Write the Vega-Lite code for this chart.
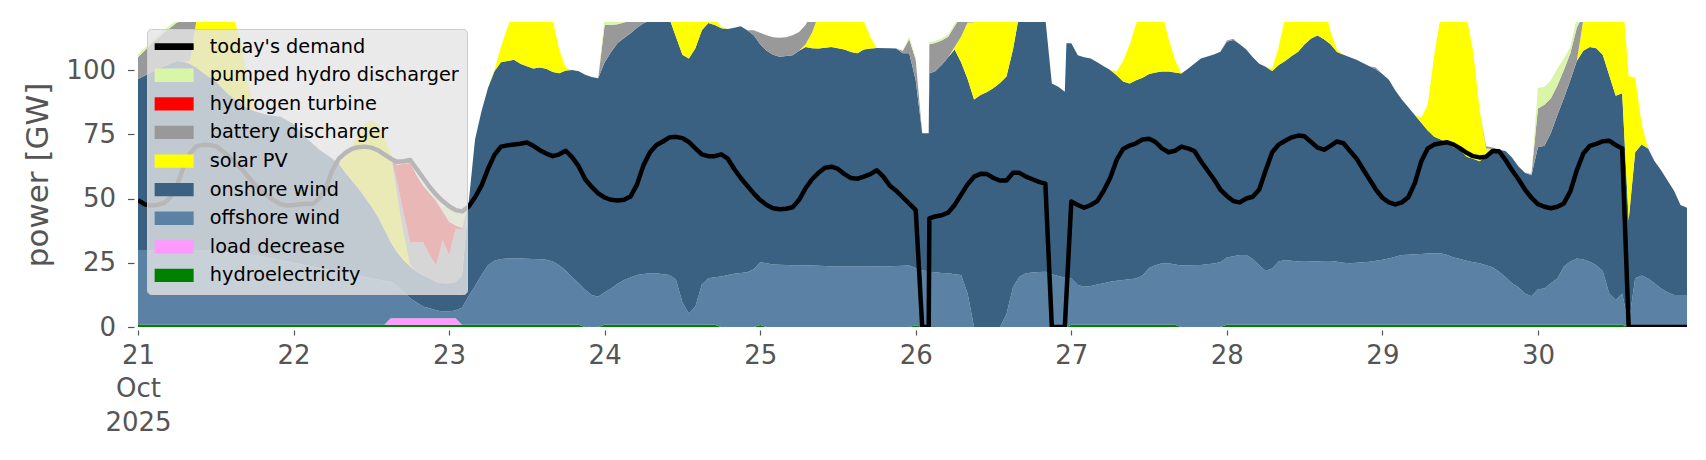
{
"$schema": "https://vega.github.io/schema/vega-lite/v6.json",
"width": 1549, "height": 305,
"autosize": {"type": "none"},
"padding": {"left": 138, "top": 22, "right": 19, "bottom": 133},
"background": "white",
"config": {"font": "DejaVu Sans", "view": {"stroke": null}},
"datasets": {
"names": [
{"key":"hydro","series":"hydroelectricity","rank":1},{"key":"load","series":"load decrease","rank":2},{"key":"off","series":"offshore wind","rank":3},{"key":"on","series":"onshore wind","rank":4},{"key":"pv","series":"solar PV","rank":5},{"key":"bat","series":"battery discharger","rank":6},{"key":"h2","series":"hydrogen turbine","rank":7},{"key":"phs","series":"pumped hydro discharger","rank":8}],
"stack": [
{"t":"2025-10-21T00:00Z","hydro":0.9,"load":0,"off":29.1,"on":66.5,"pv":0,"bat":8.5,"h2":0,"phs":1},
{"t":"2025-10-21T02:00Z","hydro":0.9,"load":0,"off":29.1,"on":69,"pv":0,"bat":11,"h2":0,"phs":1},
{"t":"2025-10-21T04:00Z","hydro":0.9,"load":0,"off":29.1,"on":71.5,"pv":0,"bat":13,"h2":0,"phs":1},
{"t":"2025-10-21T06:00Z","hydro":0.9,"load":0,"off":29.1,"on":73.5,"pv":0,"bat":15,"h2":0,"phs":1},
{"t":"2025-10-21T07:00Z","hydro":0.9,"load":0,"off":29.1,"on":73.2,"pv":0,"bat":16,"h2":0,"phs":1},
{"t":"2025-10-21T08:00Z","hydro":0.9,"load":0,"off":29.1,"on":72.5,"pv":1,"bat":16,"h2":0,"phs":1},
{"t":"2025-10-21T09:00Z","hydro":0.9,"load":0,"off":29.1,"on":71,"pv":18,"bat":10,"h2":0,"phs":0},
{"t":"2025-10-21T10:00Z","hydro":0.9,"load":0,"off":29.1,"on":69,"pv":28,"bat":5,"h2":0,"phs":0},
{"t":"2025-10-21T12:00Z","hydro":0.9,"load":0,"off":28.6,"on":66,"pv":36,"bat":0,"h2":0,"phs":0},
{"t":"2025-10-21T14:00Z","hydro":0.9,"load":0,"off":28.1,"on":61.5,"pv":34,"bat":0,"h2":0,"phs":0},
{"t":"2025-10-21T15:00Z","hydro":0.9,"load":0,"off":27.9,"on":59.7,"pv":30,"bat":0,"h2":0,"phs":0},
{"t":"2025-10-21T16:00Z","hydro":0.9,"load":0,"off":27.6,"on":58.5,"pv":22,"bat":0,"h2":0,"phs":0},
{"t":"2025-10-21T17:00Z","hydro":0.9,"load":0,"off":27.3,"on":56.8,"pv":10,"bat":0,"h2":0,"phs":0},
{"t":"2025-10-21T18:00Z","hydro":0.9,"load":0,"off":27.1,"on":56,"pv":0,"bat":0,"h2":0,"phs":0},
{"t":"2025-10-21T20:00Z","hydro":0.9,"load":0,"off":26.1,"on":55.5,"pv":0,"bat":0,"h2":0,"phs":0},
{"t":"2025-10-21T22:00Z","hydro":0.9,"load":0,"off":25.1,"on":55.8,"pv":0,"bat":0,"h2":0,"phs":0},
{"t":"2025-10-22T00:00Z","hydro":0.9,"load":0,"off":24.1,"on":54,"pv":0,"bat":0,"h2":0,"phs":0},
{"t":"2025-10-22T02:00Z","hydro":0.9,"load":0,"off":23.1,"on":49.5,"pv":0,"bat":0,"h2":0,"phs":0},
{"t":"2025-10-22T04:00Z","hydro":0.9,"load":0,"off":22.1,"on":46,"pv":0,"bat":0,"h2":0,"phs":0},
{"t":"2025-10-22T06:00Z","hydro":0.9,"load":0,"off":21.1,"on":43.5,"pv":0,"bat":0,"h2":0,"phs":0},
{"t":"2025-10-22T07:00Z","hydro":0.9,"load":0,"off":20.6,"on":42,"pv":0.5,"bat":0,"h2":0,"phs":0},
{"t":"2025-10-22T08:00Z","hydro":0.9,"load":0,"off":20.1,"on":39,"pv":6,"bat":0,"h2":0,"phs":0},
{"t":"2025-10-22T09:00Z","hydro":0.9,"load":0,"off":19.6,"on":36.5,"pv":13,"bat":0,"h2":0,"phs":0},
{"t":"2025-10-22T10:00Z","hydro":0.9,"load":0,"off":19.1,"on":34,"pv":21,"bat":0,"h2":0,"phs":0},
{"t":"2025-10-22T11:00Z","hydro":0.9,"load":0,"off":18.6,"on":31,"pv":28.5,"bat":0,"h2":0,"phs":0},
{"t":"2025-10-22T12:00Z","hydro":0.9,"load":0,"off":18.1,"on":28,"pv":33.5,"bat":0,"h2":0,"phs":0},
{"t":"2025-10-22T13:00Z","hydro":0.9,"load":0,"off":17.6,"on":24.5,"pv":36,"bat":0,"h2":0,"phs":0},
{"t":"2025-10-22T14:00Z","hydro":0.9,"load":0,"off":17.1,"on":20,"pv":36,"bat":0,"h2":0,"phs":0},
{"t":"2025-10-22T15:00Z","hydro":0.9,"load":2.5,"off":14.2,"on":15.4,"pv":34,"bat":0,"h2":0,"phs":0},
{"t":"2025-10-22T16:00Z","hydro":0.9,"load":2.5,"off":12.6,"on":13,"pv":22,"bat":5,"h2":7,"phs":0},
{"t":"2025-10-22T17:00Z","hydro":0.9,"load":2.5,"off":10.1,"on":12.5,"pv":10,"bat":8,"h2":19.5,"phs":0},
{"t":"2025-10-22T18:00Z","hydro":0.9,"load":2.5,"off":7.8,"on":12.3,"pv":0.5,"bat":9,"h2":30.7,"phs":0},
{"t":"2025-10-22T19:00Z","hydro":0.9,"load":2.5,"off":6.1,"on":12,"pv":0,"bat":11.5,"h2":26,"phs":0},
{"t":"2025-10-22T20:00Z","hydro":0.9,"load":2.5,"off":4.6,"on":12,"pv":0,"bat":13,"h2":22,"phs":0.5},
{"t":"2025-10-22T21:00Z","hydro":0.9,"load":2.5,"off":3.9,"on":11.7,"pv":0,"bat":9,"h2":24,"phs":0.5},
{"t":"2025-10-22T22:00Z","hydro":0.9,"load":2.5,"off":3.1,"on":11,"pv":0,"bat":6.5,"h2":25,"phs":1},
{"t":"2025-10-22T23:00Z","hydro":0.9,"load":2.5,"off":2.6,"on":11,"pv":0,"bat":17,"h2":11,"phs":1.5},
{"t":"2025-10-23T00:00Z","hydro":0.9,"load":2.5,"off":2.6,"on":11,"pv":0,"bat":11,"h2":13,"phs":7},
{"t":"2025-10-23T01:00Z","hydro":0.9,"load":2.5,"off":3.1,"on":11,"pv":0,"bat":20.5,"h2":1.5,"phs":6.5},
{"t":"2025-10-23T02:00Z","hydro":0.9,"load":0,"off":6.6,"on":12.5,"pv":0,"bat":18,"h2":0.5,"phs":5.5},
{"t":"2025-10-23T03:00Z","hydro":0.9,"load":0,"off":11.1,"on":36,"pv":0,"bat":0,"h2":0,"phs":0},
{"t":"2025-10-23T04:00Z","hydro":0.9,"load":0,"off":15.1,"on":57,"pv":0,"bat":0,"h2":0,"phs":0},
{"t":"2025-10-23T05:00Z","hydro":0.9,"load":0,"off":19.3,"on":63.8,"pv":0,"bat":0,"h2":0,"phs":0},
{"t":"2025-10-23T06:00Z","hydro":0.9,"load":0,"off":23.1,"on":69,"pv":0,"bat":0,"h2":0,"phs":0},
{"t":"2025-10-23T07:00Z","hydro":0.9,"load":0,"off":24.9,"on":73.7,"pv":0.5,"bat":0,"h2":0,"phs":0},
{"t":"2025-10-23T08:00Z","hydro":0.9,"load":0,"off":25.6,"on":76.5,"pv":6,"bat":0,"h2":0,"phs":0},
{"t":"2025-10-23T09:00Z","hydro":0.9,"load":0,"off":25.8,"on":76.8,"pv":13,"bat":0,"h2":0,"phs":0},
{"t":"2025-10-23T10:00Z","hydro":0.9,"load":0,"off":25.8,"on":77.3,"pv":20,"bat":0,"h2":0,"phs":0},
{"t":"2025-10-23T11:00Z","hydro":0.9,"load":0,"off":25.8,"on":75.8,"pv":26,"bat":0,"h2":0,"phs":0},
{"t":"2025-10-23T12:00Z","hydro":0.9,"load":0,"off":25.7,"on":74.9,"pv":30,"bat":0,"h2":0,"phs":0},
{"t":"2025-10-23T13:00Z","hydro":0.9,"load":0,"off":25.6,"on":74.1,"pv":31,"bat":0,"h2":0,"phs":0},
{"t":"2025-10-23T14:00Z","hydro":0.9,"load":0,"off":25.5,"on":74.6,"pv":29,"bat":0,"h2":0,"phs":0},
{"t":"2025-10-23T15:00Z","hydro":0.9,"load":0,"off":25.3,"on":74.3,"pv":25,"bat":0,"h2":0,"phs":0},
{"t":"2025-10-23T16:00Z","hydro":0.9,"load":0,"off":24.6,"on":73.7,"pv":20,"bat":0,"h2":0,"phs":0},
{"t":"2025-10-23T17:00Z","hydro":0.9,"load":0,"off":23.1,"on":74.8,"pv":9,"bat":0,"h2":0,"phs":0},
{"t":"2025-10-23T18:00Z","hydro":0.9,"load":0,"off":21.1,"on":77.8,"pv":1,"bat":0,"h2":0,"phs":0},
{"t":"2025-10-23T19:00Z","hydro":0.9,"load":0,"off":18.6,"on":80.5,"pv":0,"bat":0,"h2":0,"phs":0},
{"t":"2025-10-23T20:00Z","hydro":0.9,"load":0,"off":16.1,"on":82.5,"pv":0,"bat":0,"h2":0,"phs":0},
{"t":"2025-10-23T21:00Z","hydro":0,"load":0,"off":14.5,"on":83.7,"pv":0,"bat":0,"h2":0,"phs":0},
{"t":"2025-10-23T22:00Z","hydro":0,"load":0,"off":12.5,"on":84.8,"pv":0,"bat":0,"h2":0,"phs":0},
{"t":"2025-10-23T23:00Z","hydro":0,"load":0,"off":11.8,"on":85,"pv":0,"bat":0,"h2":0,"phs":0},
{"t":"2025-10-24T00:00Z","hydro":0.9,"load":0,"off":12.6,"on":89.5,"pv":0,"bat":14.5,"h2":0,"phs":3},
{"t":"2025-10-24T01:00Z","hydro":0.9,"load":0,"off":14.1,"on":92,"pv":0,"bat":10.5,"h2":0,"phs":3},
{"t":"2025-10-24T02:00Z","hydro":0.9,"load":0,"off":15.9,"on":93.7,"pv":0,"bat":7.3,"h2":0,"phs":2},
{"t":"2025-10-24T03:00Z","hydro":0.9,"load":0,"off":17.4,"on":94.2,"pv":0,"bat":6,"h2":0,"phs":1},
{"t":"2025-10-24T04:00Z","hydro":0.9,"load":0,"off":18.4,"on":95,"pv":0,"bat":5,"h2":0,"phs":1},
{"t":"2025-10-24T05:00Z","hydro":0.9,"load":0,"off":19.3,"on":96.3,"pv":0,"bat":3,"h2":0,"phs":1},
{"t":"2025-10-24T06:00Z","hydro":0.9,"load":0,"off":19.7,"on":97.6,"pv":0,"bat":2,"h2":0,"phs":0.5},
{"t":"2025-10-24T07:00Z","hydro":0.9,"load":0,"off":20,"on":98.6,"pv":0.5,"bat":0,"h2":0,"phs":0},
{"t":"2025-10-24T08:00Z","hydro":0.9,"load":0,"off":20,"on":99.6,"pv":3,"bat":0,"h2":0,"phs":0},
{"t":"2025-10-24T09:00Z","hydro":0.9,"load":0,"off":19.6,"on":100.5,"pv":8,"bat":0,"h2":0,"phs":0},
{"t":"2025-10-24T10:00Z","hydro":0.9,"load":0,"off":19.3,"on":99.8,"pv":13,"bat":0,"h2":0,"phs":0},
{"t":"2025-10-24T11:00Z","hydro":0.9,"load":0,"off":17.6,"on":94.5,"pv":17,"bat":0,"h2":0,"phs":0},
{"t":"2025-10-24T12:00Z","hydro":0.9,"load":0,"off":8.6,"on":96.5,"pv":20,"bat":0,"h2":0,"phs":0},
{"t":"2025-10-24T13:00Z","hydro":0.9,"load":0,"off":4.4,"on":99.2,"pv":20,"bat":0,"h2":0,"phs":0},
{"t":"2025-10-24T14:00Z","hydro":0.9,"load":0,"off":7.1,"on":100.5,"pv":18,"bat":0,"h2":0,"phs":0},
{"t":"2025-10-24T15:00Z","hydro":0.9,"load":0,"off":15.6,"on":99,"pv":13,"bat":0,"h2":0,"phs":0},
{"t":"2025-10-24T16:00Z","hydro":0.9,"load":0,"off":18.1,"on":99.3,"pv":8,"bat":0,"h2":0,"phs":0},
{"t":"2025-10-24T17:00Z","hydro":0.9,"load":0,"off":18.5,"on":98.1,"pv":3,"bat":0,"h2":0,"phs":0},
{"t":"2025-10-24T18:00Z","hydro":0,"load":0,"off":19.7,"on":96.6,"pv":0.5,"bat":0,"h2":0,"phs":0},
{"t":"2025-10-24T19:00Z","hydro":0,"load":0,"off":20.2,"on":95.8,"pv":0,"bat":0,"h2":0,"phs":0},
{"t":"2025-10-24T20:00Z","hydro":0,"load":0,"off":20.7,"on":95.8,"pv":0,"bat":0,"h2":0,"phs":0},
{"t":"2025-10-24T21:00Z","hydro":0,"load":0,"off":21,"on":96,"pv":0,"bat":0,"h2":0,"phs":0},
{"t":"2025-10-24T22:00Z","hydro":0,"load":0,"off":21.3,"on":94.2,"pv":0,"bat":0,"h2":0,"phs":0},
{"t":"2025-10-24T23:00Z","hydro":0,"load":0,"off":22.5,"on":91,"pv":0,"bat":2,"h2":0,"phs":0},
{"t":"2025-10-25T00:00Z","hydro":0.8,"load":0,"off":24.4,"on":84.8,"pv":0,"bat":4.5,"h2":0,"phs":0},
{"t":"2025-10-25T01:00Z","hydro":0,"load":0,"off":24.8,"on":82.7,"pv":0,"bat":6,"h2":0,"phs":0},
{"t":"2025-10-25T02:00Z","hydro":0,"load":0,"off":24.3,"on":81.7,"pv":0,"bat":6.8,"h2":0,"phs":0},
{"t":"2025-10-25T03:00Z","hydro":0,"load":0,"off":24.2,"on":81,"pv":0,"bat":7.4,"h2":0,"phs":0},
{"t":"2025-10-25T04:00Z","hydro":0,"load":0,"off":24.1,"on":81.4,"pv":0,"bat":7.3,"h2":0,"phs":0},
{"t":"2025-10-25T05:00Z","hydro":0,"load":0,"off":24,"on":81.8,"pv":0,"bat":7.7,"h2":0,"phs":0},
{"t":"2025-10-25T06:00Z","hydro":0,"load":0,"off":24,"on":83.5,"pv":0,"bat":7.3,"h2":0,"phs":0},
{"t":"2025-10-25T07:00Z","hydro":0,"load":0,"off":23.9,"on":85.1,"pv":1,"bat":7.5,"h2":0,"phs":0},
{"t":"2025-10-25T08:00Z","hydro":0,"load":0,"off":23.9,"on":84.6,"pv":6,"bat":8,"h2":0,"phs":0},
{"t":"2025-10-25T09:00Z","hydro":0,"load":0,"off":23.8,"on":84.6,"pv":13,"bat":2,"h2":0,"phs":0},
{"t":"2025-10-25T10:00Z","hydro":0,"load":0,"off":23.7,"on":85,"pv":18,"bat":0,"h2":0,"phs":0},
{"t":"2025-10-25T11:00Z","hydro":0,"load":0,"off":23.5,"on":85.5,"pv":21,"bat":0,"h2":0,"phs":0},
{"t":"2025-10-25T12:00Z","hydro":0,"load":0,"off":23.5,"on":85,"pv":22,"bat":0,"h2":0,"phs":0},
{"t":"2025-10-25T13:00Z","hydro":0,"load":0,"off":23.5,"on":84.5,"pv":21,"bat":0,"h2":0,"phs":0},
{"t":"2025-10-25T14:00Z","hydro":0,"load":0,"off":23.5,"on":83.5,"pv":18,"bat":0,"h2":0,"phs":0},
{"t":"2025-10-25T15:00Z","hydro":0,"load":0,"off":23.5,"on":83,"pv":15,"bat":0,"h2":0,"phs":0},
{"t":"2025-10-25T16:00Z","hydro":0,"load":0,"off":23.5,"on":84.5,"pv":11,"bat":0,"h2":0,"phs":0},
{"t":"2025-10-25T17:00Z","hydro":0,"load":0,"off":23.5,"on":84.9,"pv":4.5,"bat":0,"h2":0,"phs":0},
{"t":"2025-10-25T18:00Z","hydro":0,"load":0,"off":23.6,"on":85,"pv":0,"bat":0,"h2":0,"phs":0},
{"t":"2025-10-25T20:00Z","hydro":0,"load":0,"off":23.6,"on":84.9,"pv":0,"bat":0,"h2":0,"phs":0},
{"t":"2025-10-25T21:00Z","hydro":0,"load":0,"off":23.7,"on":84.7,"pv":0,"bat":0,"h2":0,"phs":0},
{"t":"2025-10-25T22:00Z","hydro":0,"load":0,"off":23.8,"on":82.7,"pv":0,"bat":1,"h2":0,"phs":0.3},
{"t":"2025-10-25T23:00Z","hydro":0,"load":0,"off":23.9,"on":82.6,"pv":0,"bat":5.5,"h2":0,"phs":1},
{"t":"2025-10-26T00:00Z","hydro":0.7,"load":0,"off":22.3,"on":73,"pv":0,"bat":8,"h2":0,"phs":1},
{"t":"2025-10-26T01:00Z","hydro":0,"load":0,"off":22,"on":53.4,"pv":0,"bat":0,"h2":0,"phs":0},
{"t":"2025-10-26T02:00Z","hydro":0,"load":0,"off":21.7,"on":53.7,"pv":0,"bat":0,"h2":0,"phs":0},
{"t":"2025-10-26T02:06Z","hydro":0,"load":0,"off":21.5,"on":77.2,"pv":0,"bat":11.3,"h2":0,"phs":0.9},
{"t":"2025-10-26T03:00Z","hydro":0,"load":0,"off":21.3,"on":78.2,"pv":0,"bat":11,"h2":0,"phs":0.8},
{"t":"2025-10-26T04:00Z","hydro":0,"load":0,"off":21,"on":81,"pv":0,"bat":9.5,"h2":0,"phs":0.8},
{"t":"2025-10-26T05:00Z","hydro":0,"load":0,"off":20.9,"on":84.1,"pv":0,"bat":8,"h2":0,"phs":0.8},
{"t":"2025-10-26T06:00Z","hydro":0,"load":0,"off":20.5,"on":87.5,"pv":1,"bat":8,"h2":0,"phs":1},
{"t":"2025-10-26T07:00Z","hydro":0,"load":0,"off":20.2,"on":82.8,"pv":10,"bat":8,"h2":0,"phs":1},
{"t":"2025-10-26T08:00Z","hydro":0,"load":0,"off":13,"on":83.5,"pv":22,"bat":3,"h2":0,"phs":0},
{"t":"2025-10-26T09:00Z","hydro":0,"load":0,"off":0,"on":88.5,"pv":30,"bat":0,"h2":0,"phs":0},
{"t":"2025-10-26T10:00Z","hydro":0,"load":0,"off":0,"on":90.3,"pv":34,"bat":0,"h2":0,"phs":0},
{"t":"2025-10-26T11:00Z","hydro":0,"load":0,"off":0,"on":91.5,"pv":35,"bat":0,"h2":0,"phs":0},
{"t":"2025-10-26T12:00Z","hydro":0,"load":0,"off":0,"on":93,"pv":34,"bat":0,"h2":0,"phs":0},
{"t":"2025-10-26T13:00Z","hydro":0,"load":0,"off":0,"on":95,"pv":30,"bat":0,"h2":0,"phs":0},
{"t":"2025-10-26T14:00Z","hydro":0,"load":0,"off":5,"on":92.5,"pv":24,"bat":0,"h2":0,"phs":0},
{"t":"2025-10-26T15:00Z","hydro":0,"load":0,"off":15.5,"on":92.5,"pv":15,"bat":0,"h2":0,"phs":0},
{"t":"2025-10-26T16:00Z","hydro":0,"load":0,"off":19.6,"on":102.4,"pv":8,"bat":0,"h2":0,"phs":0},
{"t":"2025-10-26T17:00Z","hydro":0,"load":0,"off":20.9,"on":104.1,"pv":2,"bat":0,"h2":0,"phs":0},
{"t":"2025-10-26T18:00Z","hydro":0,"load":0,"off":21.2,"on":102.8,"pv":0,"bat":0,"h2":0,"phs":0},
{"t":"2025-10-26T19:00Z","hydro":0,"load":0,"off":21.4,"on":100.6,"pv":0,"bat":0,"h2":0,"phs":0},
{"t":"2025-10-26T20:00Z","hydro":0,"load":0,"off":21.5,"on":98.5,"pv":0,"bat":0,"h2":0,"phs":0},
{"t":"2025-10-26T21:00Z","hydro":0,"load":0,"off":20.5,"on":74.3,"pv":0,"bat":0,"h2":0,"phs":0},
{"t":"2025-10-26T22:00Z","hydro":0,"load":0,"off":19.8,"on":73.7,"pv":0,"bat":0,"h2":0,"phs":0},
{"t":"2025-10-26T23:00Z","hydro":0,"load":0,"off":19.2,"on":72.4,"pv":0,"bat":0,"h2":0,"phs":0},
{"t":"2025-10-26T23:15Z","hydro":0,"load":0,"off":19,"on":91.4,"pv":0,"bat":0,"h2":0,"phs":0},
{"t":"2025-10-27T00:00Z","hydro":0.9,"load":0,"off":18,"on":91.5,"pv":0,"bat":0,"h2":0,"phs":0},
{"t":"2025-10-27T01:00Z","hydro":0.9,"load":0,"off":15.4,"on":89.5,"pv":0,"bat":0,"h2":0,"phs":0},
{"t":"2025-10-27T02:00Z","hydro":0.9,"load":0,"off":14.8,"on":89.3,"pv":0,"bat":0,"h2":0,"phs":0},
{"t":"2025-10-27T03:00Z","hydro":0.9,"load":0,"off":15.1,"on":88.5,"pv":0,"bat":0,"h2":0,"phs":0},
{"t":"2025-10-27T04:00Z","hydro":0.9,"load":0,"off":15.6,"on":86.5,"pv":0,"bat":0,"h2":0,"phs":0},
{"t":"2025-10-27T05:00Z","hydro":0.9,"load":0,"off":16.1,"on":84.5,"pv":0,"bat":0,"h2":0,"phs":0},
{"t":"2025-10-27T06:00Z","hydro":0.9,"load":0,"off":16.7,"on":82.4,"pv":0,"bat":0,"h2":0,"phs":0},
{"t":"2025-10-27T07:00Z","hydro":0.9,"load":0,"off":17.1,"on":80,"pv":1.5,"bat":0,"h2":0,"phs":0},
{"t":"2025-10-27T08:00Z","hydro":0.9,"load":0,"off":17.4,"on":77.2,"pv":8,"bat":0,"h2":0,"phs":0},
{"t":"2025-10-27T09:00Z","hydro":0.9,"load":0,"off":17.7,"on":76.2,"pv":15,"bat":0,"h2":0,"phs":0},
{"t":"2025-10-27T10:00Z","hydro":0.9,"load":0,"off":18,"on":77.1,"pv":22,"bat":0,"h2":0,"phs":0},
{"t":"2025-10-27T11:00Z","hydro":0.9,"load":0,"off":19.1,"on":77,"pv":28,"bat":0,"h2":0,"phs":0},
{"t":"2025-10-27T12:00Z","hydro":0.9,"load":0,"off":22.1,"on":75.5,"pv":31,"bat":0,"h2":0,"phs":0},
{"t":"2025-10-27T13:00Z","hydro":0.9,"load":0,"off":23.1,"on":75,"pv":30,"bat":0,"h2":0,"phs":0},
{"t":"2025-10-27T14:00Z","hydro":0.9,"load":0,"off":23.9,"on":74.6,"pv":23,"bat":0,"h2":0,"phs":0},
{"t":"2025-10-27T15:00Z","hydro":0.9,"load":0,"off":23.9,"on":74.6,"pv":13,"bat":0,"h2":0,"phs":0},
{"t":"2025-10-27T16:00Z","hydro":0.9,"load":0,"off":23.4,"on":74.7,"pv":5,"bat":0,"h2":0,"phs":0},
{"t":"2025-10-27T17:00Z","hydro":0,"load":0,"off":23.9,"on":74.8,"pv":0,"bat":0,"h2":0,"phs":0},
{"t":"2025-10-27T18:00Z","hydro":0,"load":0,"off":24,"on":76.5,"pv":0,"bat":0,"h2":0,"phs":0},
{"t":"2025-10-27T20:00Z","hydro":0,"load":0,"off":24.1,"on":80.4,"pv":0,"bat":0,"h2":0,"phs":0},
{"t":"2025-10-27T22:00Z","hydro":0,"load":0,"off":24.7,"on":81.4,"pv":0,"bat":0,"h2":0,"phs":0},
{"t":"2025-10-27T23:00Z","hydro":0,"load":0,"off":25.2,"on":81.9,"pv":0,"bat":0,"h2":0,"phs":0},
{"t":"2025-10-28T00:00Z","hydro":0.9,"load":0,"off":26.1,"on":84,"pv":0,"bat":0.5,"h2":0,"phs":0},
{"t":"2025-10-28T01:00Z","hydro":0.9,"load":0,"off":26.6,"on":84.2,"pv":0,"bat":0.5,"h2":0,"phs":0},
{"t":"2025-10-28T02:00Z","hydro":0.9,"load":0,"off":27.1,"on":82,"pv":0,"bat":0,"h2":0,"phs":0},
{"t":"2025-10-28T03:00Z","hydro":0.9,"load":0,"off":27.1,"on":80,"pv":0,"bat":0,"h2":0,"phs":0},
{"t":"2025-10-28T04:00Z","hydro":0.9,"load":0,"off":25.6,"on":78.5,"pv":0,"bat":0,"h2":0,"phs":0},
{"t":"2025-10-28T05:00Z","hydro":0.9,"load":0,"off":23.1,"on":78.5,"pv":0,"bat":0,"h2":0,"phs":0},
{"t":"2025-10-28T06:00Z","hydro":0.9,"load":0,"off":20.9,"on":79.5,"pv":0,"bat":0,"h2":0,"phs":0},
{"t":"2025-10-28T07:00Z","hydro":0.9,"load":0,"off":21.9,"on":76.8,"pv":1,"bat":0,"h2":0,"phs":0},
{"t":"2025-10-28T08:00Z","hydro":0.9,"load":0,"off":24.6,"on":76.5,"pv":7,"bat":0,"h2":0,"phs":0},
{"t":"2025-10-28T09:00Z","hydro":0.9,"load":0,"off":25.2,"on":77.4,"pv":17,"bat":0,"h2":0,"phs":0},
{"t":"2025-10-28T10:00Z","hydro":0.9,"load":0,"off":24.9,"on":79.7,"pv":25,"bat":0,"h2":0,"phs":0},
{"t":"2025-10-28T11:00Z","hydro":0.9,"load":0,"off":24.6,"on":81.6,"pv":30,"bat":0,"h2":0,"phs":0},
{"t":"2025-10-28T12:00Z","hydro":0.9,"load":0,"off":24.5,"on":84.6,"pv":32,"bat":0,"h2":0,"phs":0},
{"t":"2025-10-28T13:00Z","hydro":0.9,"load":0,"off":24.6,"on":86.8,"pv":30,"bat":0,"h2":0,"phs":0},
{"t":"2025-10-28T14:00Z","hydro":0.9,"load":0,"off":24.7,"on":87.8,"pv":24,"bat":0,"h2":0,"phs":0},
{"t":"2025-10-28T15:00Z","hydro":0.9,"load":0,"off":24.8,"on":86.3,"pv":14,"bat":0,"h2":0,"phs":0},
{"t":"2025-10-28T16:00Z","hydro":0.9,"load":0,"off":24.8,"on":84.3,"pv":5,"bat":0,"h2":0,"phs":0},
{"t":"2025-10-28T17:00Z","hydro":0.9,"load":0,"off":24.5,"on":81.6,"pv":1,"bat":0,"h2":0,"phs":0},
{"t":"2025-10-28T18:00Z","hydro":0.9,"load":0,"off":24.1,"on":81,"pv":0,"bat":0,"h2":0,"phs":0},
{"t":"2025-10-28T19:00Z","hydro":0.9,"load":0,"off":23.9,"on":80.2,"pv":0,"bat":0,"h2":0,"phs":0},
{"t":"2025-10-28T20:00Z","hydro":0.9,"load":0,"off":24.1,"on":79,"pv":0,"bat":0,"h2":0,"phs":0},
{"t":"2025-10-28T22:00Z","hydro":0.9,"load":0,"off":24.5,"on":76.1,"pv":0,"bat":0,"h2":0,"phs":0},
{"t":"2025-10-28T23:00Z","hydro":0.9,"load":0,"off":24.9,"on":74.5,"pv":0,"bat":0.7,"h2":0,"phs":0},
{"t":"2025-10-29T00:00Z","hydro":0.9,"load":0,"off":25.3,"on":72.3,"pv":0,"bat":0,"h2":0,"phs":0},
{"t":"2025-10-29T01:00Z","hydro":0.9,"load":0,"off":25.8,"on":69.5,"pv":0,"bat":0,"h2":0,"phs":0},
{"t":"2025-10-29T02:00Z","hydro":0.9,"load":0,"off":26.4,"on":64.7,"pv":0,"bat":0,"h2":0,"phs":0},
{"t":"2025-10-29T03:00Z","hydro":0.9,"load":0,"off":27.1,"on":60.5,"pv":0,"bat":0,"h2":0,"phs":0},
{"t":"2025-10-29T04:00Z","hydro":0.9,"load":0,"off":27.2,"on":57.4,"pv":0,"bat":0,"h2":0,"phs":0},
{"t":"2025-10-29T05:00Z","hydro":0.9,"load":0,"off":27.4,"on":54.2,"pv":0,"bat":0,"h2":0,"phs":0},
{"t":"2025-10-29T06:00Z","hydro":0.9,"load":0,"off":27.5,"on":51.1,"pv":2,"bat":0,"h2":0,"phs":0},
{"t":"2025-10-29T07:00Z","hydro":0.9,"load":0,"off":27.7,"on":47.9,"pv":10,"bat":0,"h2":0,"phs":0},
{"t":"2025-10-29T08:00Z","hydro":0.9,"load":0,"off":27.8,"on":45.3,"pv":32,"bat":0,"h2":0,"phs":0},
{"t":"2025-10-29T09:00Z","hydro":0.9,"load":0,"off":27.8,"on":44.3,"pv":48,"bat":0,"h2":0,"phs":0},
{"t":"2025-10-29T10:00Z","hydro":0.9,"load":0,"off":27.1,"on":43.5,"pv":55,"bat":0,"h2":0,"phs":0},
{"t":"2025-10-29T11:00Z","hydro":0.9,"load":0,"off":26.1,"on":43,"pv":58,"bat":0,"h2":0,"phs":0},
{"t":"2025-10-29T12:00Z","hydro":0.9,"load":0,"off":25.6,"on":42.3,"pv":58,"bat":0,"h2":0,"phs":0},
{"t":"2025-10-29T13:00Z","hydro":0.9,"load":0,"off":24.9,"on":40.5,"pv":54,"bat":0,"h2":0,"phs":0},
{"t":"2025-10-29T14:00Z","hydro":0.9,"load":0,"off":24.3,"on":40.3,"pv":42,"bat":0,"h2":0,"phs":0},
{"t":"2025-10-29T15:00Z","hydro":0.9,"load":0,"off":23.9,"on":39.7,"pv":20,"bat":0,"h2":0,"phs":0},
{"t":"2025-10-29T16:00Z","hydro":0.9,"load":0,"off":23.1,"on":42.5,"pv":3,"bat":0.8,"h2":0,"phs":0},
{"t":"2025-10-29T17:00Z","hydro":0.9,"load":0,"off":22.4,"on":46,"pv":0,"bat":0.6,"h2":0,"phs":0},
{"t":"2025-10-29T18:00Z","hydro":0.9,"load":0,"off":20.6,"on":47.5,"pv":0,"bat":0,"h2":0,"phs":0},
{"t":"2025-10-29T19:00Z","hydro":0.9,"load":0,"off":18.6,"on":49,"pv":0,"bat":0,"h2":0,"phs":0},
{"t":"2025-10-29T20:00Z","hydro":0.9,"load":0,"off":16.1,"on":49,"pv":0,"bat":0,"h2":0,"phs":0},
{"t":"2025-10-29T21:00Z","hydro":0.9,"load":0,"off":14.6,"on":47,"pv":0,"bat":0,"h2":0,"phs":0},
{"t":"2025-10-29T22:00Z","hydro":0.9,"load":0,"off":12.1,"on":47,"pv":0,"bat":0,"h2":0,"phs":0},
{"t":"2025-10-29T23:00Z","hydro":0.9,"load":0,"off":11.1,"on":47.1,"pv":0,"bat":0.5,"h2":0,"phs":0.3},
{"t":"2025-10-30T00:00Z","hydro":0.9,"load":0,"off":13.8,"on":55.3,"pv":0,"bat":15,"h2":0,"phs":8},
{"t":"2025-10-30T01:00Z","hydro":0.9,"load":0,"off":14.1,"on":55.5,"pv":0,"bat":16,"h2":0,"phs":7},
{"t":"2025-10-30T02:00Z","hydro":0.9,"load":0,"off":16.1,"on":58.5,"pv":0,"bat":13.5,"h2":0,"phs":7},
{"t":"2025-10-30T03:00Z","hydro":0.9,"load":0,"off":18,"on":63.6,"pv":0,"bat":11.5,"h2":0,"phs":6.6},
{"t":"2025-10-30T04:00Z","hydro":0.9,"load":0,"off":22.6,"on":65.5,"pv":0,"bat":11,"h2":0,"phs":4.5},
{"t":"2025-10-30T05:00Z","hydro":0.9,"load":0,"off":24.6,"on":70.5,"pv":0,"bat":10.5,"h2":0,"phs":2.5},
{"t":"2025-10-30T06:00Z","hydro":0.9,"load":0,"off":25.8,"on":76.8,"pv":0,"bat":13,"h2":0,"phs":4},
{"t":"2025-10-30T07:00Z","hydro":0.9,"load":0,"off":25.4,"on":81.2,"pv":12,"bat":2,"h2":0,"phs":0},
{"t":"2025-10-30T08:00Z","hydro":0.9,"load":0,"off":24.5,"on":83.6,"pv":20,"bat":0,"h2":0,"phs":0},
{"t":"2025-10-30T09:00Z","hydro":0.9,"load":0,"off":23.1,"on":84.5,"pv":28,"bat":0,"h2":0,"phs":0},
{"t":"2025-10-30T10:00Z","hydro":0.9,"load":0,"off":20.9,"on":84.2,"pv":34,"bat":0,"h2":0,"phs":0},
{"t":"2025-10-30T11:00Z","hydro":0.9,"load":0,"off":12.1,"on":85,"pv":38,"bat":0,"h2":0,"phs":0},
{"t":"2025-10-30T12:00Z","hydro":0.9,"load":0,"off":9.6,"on":79.5,"pv":40,"bat":0,"h2":0,"phs":0},
{"t":"2025-10-30T13:00Z","hydro":0.9,"load":0,"off":12.1,"on":78,"pv":40,"bat":0,"h2":0,"phs":0},
{"t":"2025-10-30T14:00Z","hydro":0,"load":0,"off":1,"on":40.6,"pv":56,"bat":0,"h2":0,"phs":0},
{"t":"2025-10-30T15:00Z","hydro":0,"load":0,"off":19,"on":49,"pv":29,"bat":0,"h2":0,"phs":0},
{"t":"2025-10-30T16:00Z","hydro":0,"load":0,"off":20,"on":51,"pv":8,"bat":0,"h2":0,"phs":0},
{"t":"2025-10-30T17:00Z","hydro":0,"load":0,"off":18.9,"on":50.6,"pv":0,"bat":0,"h2":0,"phs":0},
{"t":"2025-10-30T18:00Z","hydro":0,"load":0,"off":17,"on":47.5,"pv":0,"bat":0,"h2":0,"phs":0},
{"t":"2025-10-30T19:00Z","hydro":0,"load":0,"off":15,"on":46,"pv":0,"bat":0,"h2":0,"phs":0},
{"t":"2025-10-30T20:00Z","hydro":0,"load":0,"off":13.5,"on":43.5,"pv":0,"bat":0,"h2":0,"phs":0},
{"t":"2025-10-30T21:00Z","hydro":0,"load":0,"off":12.5,"on":40.5,"pv":0,"bat":0,"h2":0,"phs":0},
{"t":"2025-10-30T22:00Z","hydro":0,"load":0,"off":12.5,"on":35,"pv":0,"bat":0,"h2":0,"phs":0},
{"t":"2025-10-30T23:00Z","hydro":0,"load":0,"off":12.5,"on":33.9,"pv":0,"bat":0,"h2":0,"phs":0}
],
"demand": [
{"t":"2025-10-21T00:00Z","d":49.4},{"t":"2025-10-21T01:00Z","d":47.8},{"t":"2025-10-21T02:00Z","d":47.3},{"t":"2025-10-21T03:00Z","d":47.5},{"t":"2025-10-21T04:00Z","d":48.2},{"t":"2025-10-21T05:00Z","d":50.5},{"t":"2025-10-21T06:00Z","d":55},{"t":"2025-10-21T07:00Z","d":62},{"t":"2025-10-21T08:00Z","d":67.5},{"t":"2025-10-21T09:00Z","d":70.3},{"t":"2025-10-21T10:00Z","d":70.9},{"t":"2025-10-21T11:00Z","d":70.8},{"t":"2025-10-21T12:00Z","d":70.4},{"t":"2025-10-21T13:00Z","d":68.5},{"t":"2025-10-21T14:00Z","d":66.5},{"t":"2025-10-21T15:00Z","d":64},{"t":"2025-10-21T16:00Z","d":61.5},{"t":"2025-10-21T17:00Z","d":58.5},{"t":"2025-10-21T18:00Z","d":55.5},{"t":"2025-10-21T19:00Z","d":53},{"t":"2025-10-21T20:00Z","d":51},{"t":"2025-10-21T21:00Z","d":49.2},{"t":"2025-10-21T22:00Z","d":47.8},{"t":"2025-10-21T23:00Z","d":47.3},
{"t":"2025-10-22T00:00Z","d":47.5},{"t":"2025-10-22T01:00Z","d":47.8},{"t":"2025-10-22T02:00Z","d":48},{"t":"2025-10-22T03:00Z","d":48},{"t":"2025-10-22T04:00Z","d":50},{"t":"2025-10-22T05:00Z","d":54.5},{"t":"2025-10-22T06:00Z","d":61},{"t":"2025-10-22T07:00Z","d":65.5},{"t":"2025-10-22T08:00Z","d":67.8},{"t":"2025-10-22T09:00Z","d":69.3},{"t":"2025-10-22T10:00Z","d":70},{"t":"2025-10-22T11:00Z","d":70.2},{"t":"2025-10-22T12:00Z","d":69.8},{"t":"2025-10-22T13:00Z","d":68.8},{"t":"2025-10-22T14:00Z","d":67.2},{"t":"2025-10-22T15:00Z","d":65.5},{"t":"2025-10-22T16:00Z","d":64.3},{"t":"2025-10-22T17:00Z","d":64.5},{"t":"2025-10-22T18:00Z","d":65},{"t":"2025-10-22T19:00Z","d":61.5},{"t":"2025-10-22T20:00Z","d":58},{"t":"2025-10-22T21:00Z","d":54.5},{"t":"2025-10-22T22:00Z","d":51.5},{"t":"2025-10-22T23:00Z","d":49},
{"t":"2025-10-23T00:00Z","d":47},{"t":"2025-10-23T01:00Z","d":45.5},{"t":"2025-10-23T02:00Z","d":45},{"t":"2025-10-23T03:00Z","d":46.8},{"t":"2025-10-23T04:00Z","d":50.5},{"t":"2025-10-23T05:00Z","d":55},{"t":"2025-10-23T06:00Z","d":61.5},{"t":"2025-10-23T07:00Z","d":67},{"t":"2025-10-23T08:00Z","d":70.2},{"t":"2025-10-23T09:00Z","d":70.7},{"t":"2025-10-23T10:00Z","d":71},{"t":"2025-10-23T11:00Z","d":71.3},{"t":"2025-10-23T12:00Z","d":71.8},{"t":"2025-10-23T13:00Z","d":70.5},{"t":"2025-10-23T14:00Z","d":68.8},{"t":"2025-10-23T15:00Z","d":67.5},{"t":"2025-10-23T16:00Z","d":66.5},{"t":"2025-10-23T17:00Z","d":67.2},{"t":"2025-10-23T18:00Z","d":68.6},{"t":"2025-10-23T19:00Z","d":66},{"t":"2025-10-23T20:00Z","d":62.5},{"t":"2025-10-23T21:00Z","d":57.5},{"t":"2025-10-23T22:00Z","d":54.5},{"t":"2025-10-23T23:00Z","d":52},
{"t":"2025-10-24T00:00Z","d":50.4},{"t":"2025-10-24T01:00Z","d":49.5},{"t":"2025-10-24T02:00Z","d":49.2},{"t":"2025-10-24T03:00Z","d":49.5},{"t":"2025-10-24T04:00Z","d":50.8},{"t":"2025-10-24T05:00Z","d":55.5},{"t":"2025-10-24T06:00Z","d":63},{"t":"2025-10-24T07:00Z","d":68},{"t":"2025-10-24T08:00Z","d":70.8},{"t":"2025-10-24T09:00Z","d":72.2},{"t":"2025-10-24T10:00Z","d":73.8},{"t":"2025-10-24T11:00Z","d":74},{"t":"2025-10-24T12:00Z","d":73.5},{"t":"2025-10-24T13:00Z","d":72},{"t":"2025-10-24T14:00Z","d":69.5},{"t":"2025-10-24T15:00Z","d":67.2},{"t":"2025-10-24T16:00Z","d":66.5},{"t":"2025-10-24T17:00Z","d":66.5},{"t":"2025-10-24T18:00Z","d":67.2},{"t":"2025-10-24T19:00Z","d":65.5},{"t":"2025-10-24T20:00Z","d":61.5},{"t":"2025-10-24T21:00Z","d":58},{"t":"2025-10-24T22:00Z","d":55},{"t":"2025-10-24T23:00Z","d":52},
{"t":"2025-10-25T00:00Z","d":49.4},{"t":"2025-10-25T01:00Z","d":47.5},{"t":"2025-10-25T02:00Z","d":46.2},{"t":"2025-10-25T03:00Z","d":45.8},{"t":"2025-10-25T04:00Z","d":46},{"t":"2025-10-25T05:00Z","d":46.6},{"t":"2025-10-25T06:00Z","d":49.5},{"t":"2025-10-25T07:00Z","d":54},{"t":"2025-10-25T08:00Z","d":57.5},{"t":"2025-10-25T09:00Z","d":60},{"t":"2025-10-25T10:00Z","d":62},{"t":"2025-10-25T11:00Z","d":62.4},{"t":"2025-10-25T12:00Z","d":61.5},{"t":"2025-10-25T13:00Z","d":59.5},{"t":"2025-10-25T14:00Z","d":58},{"t":"2025-10-25T15:00Z","d":57.7},{"t":"2025-10-25T16:00Z","d":58.5},{"t":"2025-10-25T17:00Z","d":59.5},{"t":"2025-10-25T18:00Z","d":61},{"t":"2025-10-25T19:00Z","d":58.5},{"t":"2025-10-25T20:00Z","d":55},{"t":"2025-10-25T21:00Z","d":53},{"t":"2025-10-25T22:00Z","d":50.5},{"t":"2025-10-25T23:00Z","d":48},
{"t":"2025-10-26T00:00Z","d":45.5},{"t":"2025-10-26T01:00Z","d":0},{"t":"2025-10-26T02:00Z","d":0},{"t":"2025-10-26T02:06Z","d":42.3},{"t":"2025-10-26T03:00Z","d":43},{"t":"2025-10-26T04:00Z","d":43.5},{"t":"2025-10-26T05:00Z","d":44.5},{"t":"2025-10-26T06:00Z","d":47.5},{"t":"2025-10-26T07:00Z","d":51.5},{"t":"2025-10-26T08:00Z","d":55.5},{"t":"2025-10-26T09:00Z","d":58.5},{"t":"2025-10-26T10:00Z","d":59.6},{"t":"2025-10-26T11:00Z","d":59.5},{"t":"2025-10-26T12:00Z","d":58},{"t":"2025-10-26T13:00Z","d":57},{"t":"2025-10-26T14:00Z","d":57},{"t":"2025-10-26T15:00Z","d":60},{"t":"2025-10-26T16:00Z","d":60},{"t":"2025-10-26T17:00Z","d":58.5},{"t":"2025-10-26T18:00Z","d":57.5},{"t":"2025-10-26T19:00Z","d":56.5},{"t":"2025-10-26T20:00Z","d":55.8},{"t":"2025-10-26T21:00Z","d":0},{"t":"2025-10-26T22:00Z","d":0},{"t":"2025-10-26T23:00Z","d":0},
{"t":"2025-10-27T00:00Z","d":48.8},{"t":"2025-10-27T01:00Z","d":47.5},{"t":"2025-10-27T02:00Z","d":46.4},{"t":"2025-10-27T03:00Z","d":47.5},{"t":"2025-10-27T04:00Z","d":49},{"t":"2025-10-27T05:00Z","d":53},{"t":"2025-10-27T06:00Z","d":58},{"t":"2025-10-27T07:00Z","d":65},{"t":"2025-10-27T08:00Z","d":69.3},{"t":"2025-10-27T09:00Z","d":70.6},{"t":"2025-10-27T10:00Z","d":71.5},{"t":"2025-10-27T11:00Z","d":73},{"t":"2025-10-27T12:00Z","d":73.3},{"t":"2025-10-27T13:00Z","d":72},{"t":"2025-10-27T14:00Z","d":69.5},{"t":"2025-10-27T15:00Z","d":68},{"t":"2025-10-27T16:00Z","d":68.6},{"t":"2025-10-27T17:00Z","d":70.2},{"t":"2025-10-27T18:00Z","d":69.5},{"t":"2025-10-27T19:00Z","d":68.5},{"t":"2025-10-27T20:00Z","d":64.5},{"t":"2025-10-27T21:00Z","d":61},{"t":"2025-10-27T22:00Z","d":57.5},{"t":"2025-10-27T23:00Z","d":53.5},
{"t":"2025-10-28T00:00Z","d":51},{"t":"2025-10-28T01:00Z","d":49},{"t":"2025-10-28T02:00Z","d":48.5},{"t":"2025-10-28T03:00Z","d":50},{"t":"2025-10-28T04:00Z","d":50.7},{"t":"2025-10-28T05:00Z","d":53.5},{"t":"2025-10-28T06:00Z","d":61},{"t":"2025-10-28T07:00Z","d":68},{"t":"2025-10-28T08:00Z","d":71},{"t":"2025-10-28T09:00Z","d":72.5},{"t":"2025-10-28T10:00Z","d":73.8},{"t":"2025-10-28T11:00Z","d":74.5},{"t":"2025-10-28T12:00Z","d":74.2},{"t":"2025-10-28T13:00Z","d":72},{"t":"2025-10-28T14:00Z","d":69.8},{"t":"2025-10-28T15:00Z","d":69},{"t":"2025-10-28T16:00Z","d":70.5},{"t":"2025-10-28T17:00Z","d":72.2},{"t":"2025-10-28T18:00Z","d":71.5},{"t":"2025-10-28T19:00Z","d":68.5},{"t":"2025-10-28T20:00Z","d":65.6},{"t":"2025-10-28T21:00Z","d":61.5},{"t":"2025-10-28T22:00Z","d":57.5},{"t":"2025-10-28T23:00Z","d":53.5},
{"t":"2025-10-29T00:00Z","d":50.3},{"t":"2025-10-29T01:00Z","d":48.5},{"t":"2025-10-29T02:00Z","d":47.7},{"t":"2025-10-29T03:00Z","d":48.5},{"t":"2025-10-29T04:00Z","d":50.5},{"t":"2025-10-29T05:00Z","d":56},{"t":"2025-10-29T06:00Z","d":64.5},{"t":"2025-10-29T07:00Z","d":69.5},{"t":"2025-10-29T08:00Z","d":71},{"t":"2025-10-29T09:00Z","d":71.5},{"t":"2025-10-29T10:00Z","d":71.9},{"t":"2025-10-29T11:00Z","d":71},{"t":"2025-10-29T12:00Z","d":69.5},{"t":"2025-10-29T13:00Z","d":67.8},{"t":"2025-10-29T14:00Z","d":66.5},{"t":"2025-10-29T15:00Z","d":66},{"t":"2025-10-29T16:00Z","d":66.3},{"t":"2025-10-29T17:00Z","d":68.5},{"t":"2025-10-29T18:00Z","d":68.4},{"t":"2025-10-29T19:00Z","d":65},{"t":"2025-10-29T20:00Z","d":61},{"t":"2025-10-29T21:00Z","d":57.5},{"t":"2025-10-29T22:00Z","d":53.5},{"t":"2025-10-29T23:00Z","d":50.3},
{"t":"2025-10-30T00:00Z","d":47.8},{"t":"2025-10-30T01:00Z","d":46.8},{"t":"2025-10-30T02:00Z","d":46.2},{"t":"2025-10-30T03:00Z","d":46.8},{"t":"2025-10-30T04:00Z","d":48.1},{"t":"2025-10-30T05:00Z","d":52.8},{"t":"2025-10-30T06:00Z","d":61},{"t":"2025-10-30T07:00Z","d":67.5},{"t":"2025-10-30T08:00Z","d":70.5},{"t":"2025-10-30T09:00Z","d":71.3},{"t":"2025-10-30T10:00Z","d":72.3},{"t":"2025-10-30T11:00Z","d":72.5},{"t":"2025-10-30T12:00Z","d":70.8},{"t":"2025-10-30T13:00Z","d":69.5},{"t":"2025-10-30T14:00Z","d":0},{"t":"2025-10-30T15:00Z","d":0},{"t":"2025-10-30T16:00Z","d":0},{"t":"2025-10-30T17:00Z","d":0},{"t":"2025-10-30T18:00Z","d":0},{"t":"2025-10-30T19:00Z","d":0},{"t":"2025-10-30T20:00Z","d":0},{"t":"2025-10-30T21:00Z","d":0},{"t":"2025-10-30T22:00Z","d":0},{"t":"2025-10-30T23:00Z","d":0}
]
},
"layer": [
{
"data": {"name": "stack"},
"transform": [
{"fold": ["hydro","load","off","on","pv","bat","h2","phs"], "as": ["key","value"]},
{"lookup": "key", "from": {"data": {"name": "names"}, "key": "key", "fields": ["series","rank"]}}
],
"mark": {"type": "area", "clip": true, "interpolate": "linear", "opacity": 1},
"encoding": {
"x": {"field": "t", "type": "temporal",
"scale": {"type": "utc", "domain": [{"year":2025,"month":10,"date":21,"hours":0,"utc":true},{"year":2025,"month":10,"date":30,"hours":23,"utc":true}]},
"axis": {"values": [{"year":2025,"month":10,"date":21,"utc":true},{"year":2025,"month":10,"date":22,"utc":true},{"year":2025,"month":10,"date":23,"utc":true},{"year":2025,"month":10,"date":24,"utc":true},{"year":2025,"month":10,"date":25,"utc":true},{"year":2025,"month":10,"date":26,"utc":true},{"year":2025,"month":10,"date":27,"utc":true},{"year":2025,"month":10,"date":28,"utc":true},{"year":2025,"month":10,"date":29,"utc":true},{"year":2025,"month":10,"date":30,"utc":true}],
"labelExpr": "utcdate(datum.value) === 21 ? ['21', 'Oct', '2025'] : '' + utcdate(datum.value)",
"title": null, "grid": false, "domain": false, "tickColor": "#555555", "tickSize": 5, "tickWidth": 1.2, "offset": 3, "labelPadding": 7,
"labelFontSize": 26, "labelColor": "#555555", "labelFont": "DejaVu Sans", "labelLineHeight": 33.5, "labelBaseline": "top", "labelAlign": "center", "labelFlush": false, "labelOverlap": false, "labelBound": false}},
"y": {"field": "value", "type": "quantitative", "stack": "zero",
"scale": {"domain": [0, 118.7], "nice": false, "zero": true},
"axis": {"values": [0,25,50,75,100], "title": "power [GW]", "titleFontSize": 31, "titleFont": "DejaVu Sans", "titleFontWeight": "normal", "titleColor": "#555555", "titlePadding": 11,
"grid": false, "domain": false, "tickColor": "#555555", "tickSize": 6.5, "tickWidth": 1.2, "offset": 4, "labelPadding": 12, "labelFontSize": 26, "labelColor": "#555555", "labelFont": "DejaVu Sans", "labelFlush": false}},
"color": {"field": "series", "type": "nominal",
"scale": {"domain": ["today's demand","pumped hydro discharger","hydrogen turbine","battery discharger","solar PV","onshore wind","offshore wind","load decrease","hydroelectricity"],
"range": ["#000000","#d9f5a8","#ff0000","#999999","#ffff00","#3b6182","#5b82a5","#ff99ff","#008000"]},
"legend": {"title": null, "orient": "none", "legendX": 9, "legendY": 7,
"fillColor": "rgba(229,229,229,0.8)", "strokeColor": "#cccccc", "cornerRadius": 4, "padding": 8,
"labelFont": "DejaVu Sans", "labelFontSize": 19.3, "labelColor": "#000000", "labelLimit": 400,
"symbolType": "M-3.9,-1.33H3.9V1.33H-3.9Z", "symbolSize": 100, "symbolStrokeWidth": 0, "symbolOpacity": 1,
"rowPadding": 8.6, "symbolOffset": 9.5, "labelOffset": 26,
"encode": {"symbols": {"update": {
"shape": {"signal": "datum.index === 0 ? 'M-3.9,-0.67H3.9V0.67H-3.9Z' : 'M-3.9,-1.33H3.9V1.33H-3.9Z'"},
"fill": {"signal": "scale('color', datum.value)"},
"stroke": {"value": "transparent"}, "strokeWidth": {"value": 0}, "opacity": {"value": 1}}}}}},
"order": {"field": "rank", "type": "quantitative", "sort": "ascending"}
}
},
{
"data": {"name": "demand"},
"mark": {"type": "line", "clip": true, "strokeWidth": 4.5, "strokeJoin": "round", "strokeCap": "butt"},
"encoding": {
"x": {"field": "t", "type": "temporal", "scale": {"type": "utc"}},
"y": {"field": "d", "type": "quantitative"},
"color": {"datum": "today's demand"}
}
}
]
}
